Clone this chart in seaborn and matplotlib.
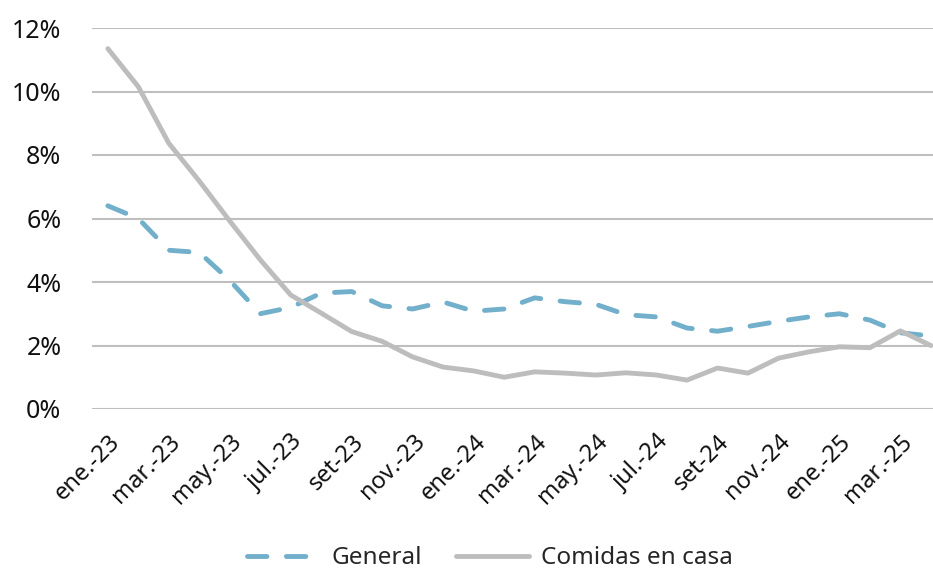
import pandas as pd
import numpy as np
import matplotlib.pyplot as plt
import seaborn as sns

# Monthly inflation, ene-23 to abr-25 (in %)
months = ["ene.-23", "feb.-23", "mar.-23", "abr.-23", "may.-23", "jun.-23",
          "jul.-23", "ago.-23", "set-23", "oct.-23", "nov.-23", "dic.-23",
          "ene.-24", "feb.-24", "mar.-24", "abr.-24", "may.-24", "jun.-24",
          "jul.-24", "ago.-24", "set-24", "oct.-24", "nov.-24", "dic.-24",
          "ene.-25", "feb.-25", "mar.-25", "abr.-25"]
general = [6.4, 6.0, 5.0, 4.93, 4.05, 3.0, 3.2, 3.65, 3.7, 3.25, 3.15, 3.37,
           3.08, 3.15, 3.5, 3.38, 3.3, 2.97, 2.9, 2.55, 2.45, 2.6, 2.76, 2.9,
           3.0, 2.8, 2.4, 2.3]
comidas = [11.35, 10.15, 8.37, 7.18, 5.92, 4.7, 3.59, 3.02, 2.44, 2.13, 1.64,
           1.32, 1.2, 1.0, 1.17, 1.13, 1.07, 1.14, 1.07, 0.91, 1.29, 1.13, 1.6,
           1.8, 1.96, 1.93, 2.46, 2.0]

df = pd.DataFrame({"x": np.arange(len(months)), "General": general,
                   "Comidas en casa": comidas})

sns.set_theme(style="white")
plt.rcParams['font.family'] = ['Noto Sans', 'DejaVu Sans']

fig, ax = plt.subplots(figsize=(9.33, 5.74), dpi=100)
fig.subplots_adjust(left=92/933, right=1.0, top=1-28/574, bottom=1-409/574)

sns.lineplot(data=df, x="x", y="General", ax=ax, color="#72AFCB",
             linewidth=3.5, label="General")
sns.lineplot(data=df, x="x", y="Comidas en casa", ax=ax, color="#BDBDBD",
             linewidth=3.5, label="Comidas en casa")
gl = ax.lines[0]
gl.set_linestyle((0, (4, 4)))
gl.set_dash_capstyle("round")

ax.set_ylim(0, 12)
ax.set_yticks(range(0, 13, 2))
ax.set_yticklabels([f"{v}%" for v in range(0, 13, 2)], fontsize=18, color="#111111")
ax.set_xlim(-0.52, 27.07)
ax.set_xticks(df["x"][::2])
ax.set_xticklabels(months[::2], rotation=45, ha="right", rotation_mode="anchor",
                   fontsize=17, color="#111111")
ax.tick_params(axis="y", pad=22, length=0)
ax.tick_params(axis="x", pad=15, length=0)
ax.grid(axis="y", color="#BFBFBF", linewidth=1.5)
ax.set_axisbelow(True)
for s in ax.spines.values():
    s.set_visible(False)
ax.set_xlabel("")
ax.set_ylabel("")

handles, labels = ax.get_legend_handles_labels()
ax.get_legend().remove()
handles[0].set_linestyle((0, (4, 4)))
handles[0].set_dash_capstyle("round")
fig.legend(handles, labels, loc="lower center", bbox_to_anchor=(490/933, -0.032),
           ncol=2, frameon=False, fontsize=17.5, handlelength=3, columnspacing=1.4,
           handletextpad=0.5)

plt.savefig("out.png", dpi=100)
